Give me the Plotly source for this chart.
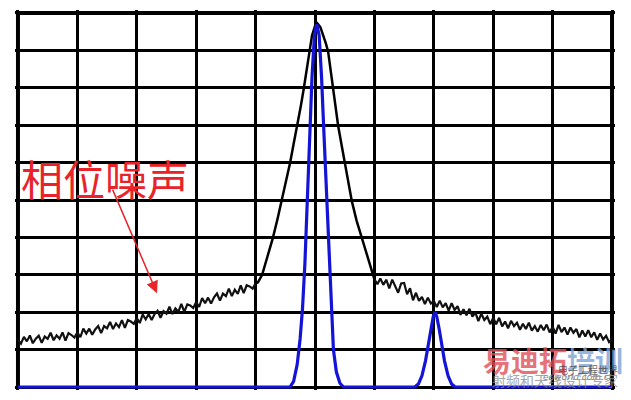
import plotly.graph_objects as go

# ---- data (grid units: 10 x 10 divisions) ----
noise_left_x = [0.00, 0.05, 0.10, 0.15, 0.20, 0.25, 0.30, 0.35, 0.40, 0.45,
                0.50, 0.55, 0.60, 0.65, 0.70, 0.75, 0.80, 0.85, 0.90, 0.95,
                1.00, 1.05, 1.10, 1.15, 1.20, 1.25, 1.30, 1.35, 1.40, 1.45,
                1.50, 1.55, 1.60, 1.65, 1.70, 1.75, 1.80, 1.85, 1.90, 1.95,
                2.00, 2.05, 2.10, 2.15, 2.20, 2.25, 2.30, 2.35, 2.40, 2.45,
                2.50, 2.55, 2.60, 2.65, 2.70, 2.75, 2.80, 2.85, 2.90, 2.95,
                3.00, 3.05, 3.10, 3.15, 3.20, 3.25, 3.30, 3.35, 3.40, 3.45,
                3.50, 3.55, 3.60, 3.65, 3.70, 3.75, 3.80, 3.85, 3.90, 3.95,
                4.00]
noise_left_y = [1.26, 1.16, 1.34, 1.22, 1.38, 1.17, 1.29, 1.37, 1.18, 1.35,
                1.29, 1.45, 1.25, 1.38, 1.29, 1.46, 1.24, 1.44, 1.39, 1.32,
                1.46, 1.33, 1.56, 1.43, 1.56, 1.40, 1.54, 1.63, 1.44, 1.63,
                1.57, 1.74, 1.55, 1.70, 1.60, 1.79, 1.58, 1.79, 1.75, 1.69,
                1.84, 1.71, 1.94, 1.81, 1.95, 1.79, 1.95, 2.04, 1.85, 2.03,
                1.96, 2.15, 1.95, 2.10, 2.01, 2.22, 2.01, 2.21, 2.18, 2.11,
                2.27, 2.14, 2.38, 2.24, 2.39, 2.23, 2.40, 2.50, 2.31, 2.50,
                2.43, 2.63, 2.43, 2.60, 2.49, 2.72, 2.51, 2.72, 2.69, 2.63,
                2.77]

carrier_x = [4.00, 4.04, 4.11, 4.20, 4.29, 4.37, 4.44, 4.51, 4.58, 4.64, 4.70,
             4.76, 4.81, 4.86, 4.90, 4.95, 5.00, 5.04, 5.09, 5.13, 5.18,
             5.22, 5.26, 5.30, 5.35, 5.39, 5.45, 5.50, 5.56, 5.62, 5.70,
             5.79, 5.88, 5.98, 6.00]
carrier_y = [2.77, 2.80, 3.00, 3.50, 3.98, 4.50, 4.97, 5.50, 5.99, 6.50, 6.98,
             7.50, 7.97, 8.50, 8.98, 9.40, 9.65, 9.72, 9.62, 9.45, 9.20,
             8.98, 8.50, 7.97, 7.45, 6.98, 6.45, 5.99, 5.45, 4.97, 4.45,
             3.98, 3.45, 2.97, 2.88]

noise_right_x = [6.00, 6.05, 6.10, 6.15, 6.20, 6.25, 6.30, 6.35, 6.40, 6.45,
                 6.50, 6.55, 6.60, 6.65, 6.70, 6.75, 6.80, 6.85, 6.90, 6.95,
                 7.00, 7.05, 7.10, 7.15, 7.20, 7.25, 7.30, 7.35, 7.40, 7.45,
                 7.50, 7.55, 7.60, 7.65, 7.70, 7.75, 7.80, 7.85, 7.90, 7.95,
                 8.00, 8.05, 8.10, 8.15, 8.20, 8.25, 8.30, 8.35, 8.40, 8.45,
                 8.50, 8.55, 8.60, 8.65, 8.70, 8.75, 8.80, 8.85, 8.90, 8.95,
                 9.00, 9.05, 9.10, 9.15, 9.20, 9.25, 9.30, 9.35, 9.40, 9.45,
                 9.50, 9.55, 9.60, 9.65, 9.70, 9.75, 9.80, 9.85, 9.90, 9.95,
                 10.00]
noise_right_y = [2.88, 2.75, 2.90, 2.73, 2.87, 2.64, 2.87, 2.71, 2.52, 2.77,
                 2.78, 2.48, 2.64, 2.32, 2.52, 2.30, 2.41, 2.22, 2.39, 2.23,
                 2.30, 2.14, 2.31, 2.13, 2.24, 2.04, 2.24, 2.06, 2.16, 1.93,
                 2.08, 1.92, 2.09, 1.88, 1.99, 1.76, 1.96, 1.79, 1.88, 1.68,
                 1.85, 1.68, 1.85, 1.62, 1.75, 1.57, 1.77, 1.63, 1.72, 1.53,
                 1.69, 1.55, 1.72, 1.51, 1.63, 1.48, 1.66, 1.52, 1.67, 1.46,
                 1.61, 1.43, 1.66, 1.47, 1.59, 1.40, 1.59, 1.45, 1.55, 1.33,
                 1.51, 1.35, 1.52, 1.33, 1.46, 1.26, 1.43, 1.27, 1.37, 1.20,
                 1.29]

blue_x = [0.00, 4.58, 4.64, 4.70, 4.75, 4.79, 4.83, 4.87, 4.91, 4.95, 4.99,
          5.03, 5.07, 5.11, 5.15, 5.19, 5.23, 5.27, 5.31, 5.36, 5.42, 5.48,
          6.68, 6.74, 6.80, 6.86, 6.91, 6.95, 6.99, 7.02, 7.05, 7.09, 7.13,
          7.18, 7.24, 7.30, 7.36, 10.00]
blue_y = [0.00, 0.00, 0.15, 0.60, 1.30, 2.10, 3.30, 5.00, 6.80, 8.30, 9.40,
          9.70, 9.40, 8.30, 6.80, 5.30, 3.50, 2.00, 1.00, 0.40, 0.10, 0.00,
          0.00, 0.08, 0.30, 0.70, 1.15, 1.55, 1.88, 2.00, 1.88, 1.55, 1.15,
          0.70, 0.30, 0.08, 0.00, 0.00]

label_text = "相位噪声"
grid_ticks = [0, 1, 2, 3, 4, 5, 6, 7, 8, 9, 10]

fig = go.Figure()
fig.add_trace(go.Scatter(x=noise_left_x, y=noise_left_y, mode="lines",
                         line=dict(color="#111111", width=2.2), hoverinfo="skip"))
fig.add_trace(go.Scatter(x=noise_right_x, y=noise_right_y, mode="lines",
                         line=dict(color="#111111", width=2.2), hoverinfo="skip"))
fig.add_trace(go.Scatter(x=carrier_x, y=carrier_y, mode="lines",
                         line=dict(color="#000000", width=2.5), hoverinfo="skip"))
fig.add_trace(go.Scatter(x=blue_x, y=blue_y, mode="lines",
                         line=dict(color="#1414d8", width=3.2), hoverinfo="skip"))

# border (below traces)
for x0, y0, x1, y1 in [(0, 0, 0, 10), (10, 0, 10, 10), (0, 10, 10, 10)]:
    fig.add_shape(type="line", x0=x0, y0=y0, x1=x1, y1=y1, xref="x", yref="y",
                  line=dict(color="black", width=4), layer="below")

fig.add_annotation(x=1.46, y=5.6, text=label_text, showarrow=False,
                   font=dict(family="Noto Sans CJK SC", size=42, color="#e8232a"))
fig.add_annotation(x=2.34, y=2.51, ax=-45, ay=-105, text="", showarrow=True,
                   arrowhead=2, arrowsize=1.6, arrowwidth=1.5, arrowcolor="#e8232a")

# watermark
fig.add_annotation(x=9.0, y=0.72, showarrow=False, opacity=0.8,
                   text="<b><span style='color:#e0505a'>易迪拓</span>"
                        "<span style='color:#7fa3d6'>培训</span></b>",
                   font=dict(family="Noto Sans CJK SC", size=28, color="#e0505a"))
fig.add_annotation(x=9.6, y=0.47, text="电子工程世界", showarrow=False, opacity=0.8,
                   font=dict(family="Noto Sans CJK SC", size=10, color="#444444"))
fig.add_annotation(x=9.45, y=0.28, text="<i>eeworld.com.cn</i>", showarrow=False, opacity=0.8,
                   font=dict(family="DejaVu Sans", size=9, color="#666666"))
fig.add_annotation(x=9.04, y=0.18, text="射频和天线设计专家", showarrow=False, opacity=0.75,
                   font=dict(family="Noto Sans CJK SC", size=14, color="#8a8a8a"))

fig.update_xaxes(range=[-0.05, 10.05], tickvals=grid_ticks, showticklabels=False,
                 showgrid=True, gridcolor="black", gridwidth=3, zeroline=False,
                 showline=False, ticks="", fixedrange=True)
fig.update_yaxes(range=[-0.08, 10.08], tickvals=grid_ticks, showticklabels=False,
                 showgrid=True, gridcolor="black", gridwidth=3, zeroline=False,
                 showline=False, ticks="", fixedrange=True)
# page body has an 8px default margin, compensate here
fig.update_layout(width=615, height=384, showlegend=False,
                  margin=dict(l=7, r=8, t=2, b=2),
                  paper_bgcolor="white", plot_bgcolor="white")

fig.write_html("out.html")
